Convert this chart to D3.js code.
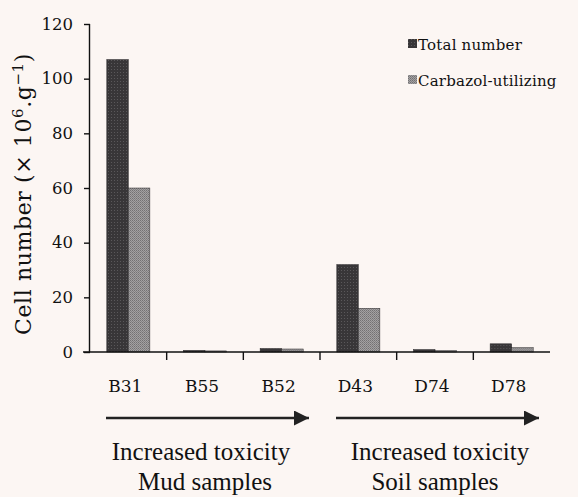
<!DOCTYPE html>
<html>
<head>
<meta charset="utf-8">
<script src="https://cdn.jsdelivr.net/npm/d3@7"></script>
<style>
  body { margin: 0; background: #fcf6f3; }
  svg { display: block; }
</style>
</head>
<body>
<div id="grafiek"></div>
<script>

// data
var categories = ["B31", "B55", "B52", "D43", "D74", "D78"];
var totalNumber = [107, 0.6, 1.3, 32, 0.9, 3];
var carbazolUtilizing = [60, 0.4, 1.1, 16, 0.5, 1.6];
var seriesNames = ["Total number", "Carbazol-utilizing"];
var yTicks = [0, 20, 40, 60, 80, 100, 120];
var groupNames = ["Mud samples", "Soil samples"];
var groupFirst = ["B31", "D43"];
var groupLast = ["B52", "D78"];
var arrowText = "Increased toxicity";

var breedte = 578, hoogte = 497;

var svg = d3.select("#grafiek")
            .append("svg")
            .attr("width", breedte)
            .attr("height", hoogte);

svg.append("rect")
   .attr("width", breedte)
   .attr("height", hoogte)
   .attr("fill", "#fcf6f3");

// textures for the bars
var defs = svg.append("defs");

var donker = defs.append("pattern")
                 .attr("id", "donker")
                 .attr("width", 3)
                 .attr("height", 3)
                 .attr("patternUnits", "userSpaceOnUse");
donker.append("rect").attr("width", 3).attr("height", 3).attr("fill", "#383638");
donker.append("rect").attr("width", 1).attr("height", 1).attr("fill", "#5a585a");

var licht = defs.append("pattern")
                .attr("id", "licht")
                .attr("width", 2)
                .attr("height", 2)
                .attr("patternUnits", "userSpaceOnUse");
licht.append("rect").attr("width", 2).attr("height", 2).attr("fill", "#a3a1a2");
licht.append("rect").attr("width", 1).attr("height", 1).attr("fill", "#737173");
licht.append("rect").attr("x", 1).attr("y", 1).attr("width", 1).attr("height", 1).attr("fill", "#838183");

var kleur = d3.scaleOrdinal()
              .domain(seriesNames)
              .range(["url(#donker)", "url(#licht)"]);

// scales
var x = d3.scaleBand()
          .domain(categories)
          .range([90, 550])
          .padding(0);

var x1 = d3.scaleBand()
           .domain(seriesNames)
           .range([0, x.bandwidth()])
           .paddingInner(0)
           .paddingOuter(0.78);

var y = d3.scaleLinear()
          .domain([0, 120])
          .range([352, 24]);

var rijen = categories.map(function(c, i) {
  return {cat: c, waarden: [totalNumber[i], carbazolUtilizing[i]]};
});

// bars
var groep = svg.selectAll(".groep")
               .data(rijen)
               .enter()
               .append("g")
               .attr("class", "groep")
               .attr("transform", function(d) { return "translate(" + x(d.cat) + ",0)"; });

groep.selectAll("rect")
     .data(function(d) {
       return d.waarden.map(function(v, j) { return {serie: seriesNames[j], waarde: v}; });
     })
     .enter()
     .append("rect")
     .attr("x", function(d) { return x1(d.serie); })
     .attr("y", function(d) { return y(d.waarde); })
     .attr("width", x1.bandwidth())
     .attr("height", function(d) { return y(0) - y(d.waarde); })
     .attr("fill", function(d) { return kleur(d.serie); })
     .attr("stroke", "#2a282a")
     .attr("stroke-width", 0.5);

// y axis
var yAs = svg.append("g")
             .attr("transform", "translate(90,0)")
             .call(d3.axisLeft(y).tickValues(yTicks).tickSize(6).tickPadding(11));

yAs.select(".domain")
   .attr("d", "M-0.5," + y(120) + "V" + y(0))
   .attr("stroke", "#111")
   .attr("stroke-width", 1.4);
yAs.selectAll(".tick line").attr("stroke", "#111").attr("stroke-width", 1.4);
yAs.selectAll(".tick text")
   .attr("font-family", "DejaVu Serif")
   .attr("font-size", 16.5)
   .attr("fill", "#111");

// x axis: line, ticks between categories, labels under the bands
svg.append("line")
   .attr("x1", 83)
   .attr("x2", 550)
   .attr("y1", y(0))
   .attr("y2", y(0))
   .attr("stroke", "#111")
   .attr("stroke-width", 1.6);

svg.selectAll(".xtick")
   .data(categories.slice(0, categories.length - 1))
   .enter()
   .append("line")
   .attr("class", "xtick")
   .attr("x1", function(d) { return x(d) + x.bandwidth(); })
   .attr("x2", function(d) { return x(d) + x.bandwidth(); })
   .attr("y1", y(0))
   .attr("y2", y(0) + 8)
   .attr("stroke", "#111")
   .attr("stroke-width", 1.4);

svg.selectAll(".xlabel")
   .data(categories)
   .enter()
   .append("text")
   .attr("class", "xlabel")
   .attr("x", function(d) { return x(d) + x.bandwidth() / 2 - 3; })
   .attr("y", 392)
   .attr("text-anchor", "middle")
   .attr("font-family", "DejaVu Serif")
   .attr("font-size", 17)
   .attr("fill", "#111")
   .text(function(d) { return d; });

// y axis title
var titel = svg.append("text")
               .attr("transform", "translate(31,194) rotate(-90)")
               .attr("text-anchor", "middle")
               .attr("font-family", "DejaVu Serif")
               .attr("font-size", 22)
               .attr("letter-spacing", 0.6)
               .attr("fill", "#111");
titel.append("tspan").text("Cell number (\u00d7 10");
titel.append("tspan").attr("dy", -8).attr("font-size", 15).text("6");
titel.append("tspan").attr("dy", 8).text(".g");
titel.append("tspan").attr("dy", -8).attr("font-size", 15).text("\u22121");
titel.append("tspan").attr("dy", 8).text(")");

// legend
var legenda = svg.append("g")
                 .attr("class", "legend");

legenda.selectAll("rect")
       .data(seriesNames)
       .enter()
       .append("rect")
       .attr("x", 408)
       .attr("y", function(d, i) { return 39 + i * 36; })
       .attr("width", 9)
       .attr("height", 9)
       .attr("fill", kleur);

legenda.selectAll("text")
       .data(seriesNames)
       .enter()
       .append("text")
       .attr("x", 418)
       .attr("y", function(d, i) { return 50 + i * 36; })
       .attr("font-family", "DejaVu Serif")
       .attr("font-size", 15)
       .attr("letter-spacing", 0.2)
       .attr("fill", "#111")
       .text(function(d) { return d; });

// arrows with the sample groups
defs.append("marker")
    .attr("id", "pijl")
    .attr("viewBox", "0 0 10 10")
    .attr("refX", 10)
    .attr("refY", 5)
    .attr("markerUnits", "userSpaceOnUse")
    .attr("markerWidth", 17)
    .attr("markerHeight", 15)
    .attr("orient", "auto")
    .append("path")
    .attr("d", "M0,0L10,5L0,10Z")
    .attr("fill", "#222");

var pijlen = groupNames.map(function(g, i) {
  var begin = x(groupFirst[i]);
  var eind = x(groupLast[i]) + x.bandwidth();
  return {naam: g, x1: begin + 16, x2: eind - 11, midden: (begin + eind) / 2};
});

svg.selectAll(".pijl")
   .data(pijlen)
   .enter()
   .append("line")
   .attr("class", "pijl")
   .attr("x1", function(d) { return d.x1; })
   .attr("x2", function(d) { return d.x2; })
   .attr("y1", 418)
   .attr("y2", 418)
   .attr("stroke", "#222")
   .attr("stroke-width", 2.6)
   .attr("marker-end", "url(#pijl)");

svg.selectAll(".toxiciteit")
   .data(pijlen)
   .enter()
   .append("text")
   .attr("class", "toxiciteit")
   .attr("x", function(d, i) { return d.midden + (i == 0 ? -4 : 5); })
   .attr("y", 460)
   .attr("text-anchor", "middle")
   .attr("font-family", "Liberation Serif")
   .attr("font-size", 25)
   .attr("fill", "#111")
   .text(arrowText);

svg.selectAll(".monster")
   .data(pijlen)
   .enter()
   .append("text")
   .attr("class", "monster")
   .attr("x", function(d) { return d.midden; })
   .attr("y", 490)
   .attr("text-anchor", "middle")
   .attr("font-family", "Liberation Serif")
   .attr("font-size", 25)
   .attr("fill", "#111")
   .text(function(d) { return d.naam; });

</script>
</body>
</html>
